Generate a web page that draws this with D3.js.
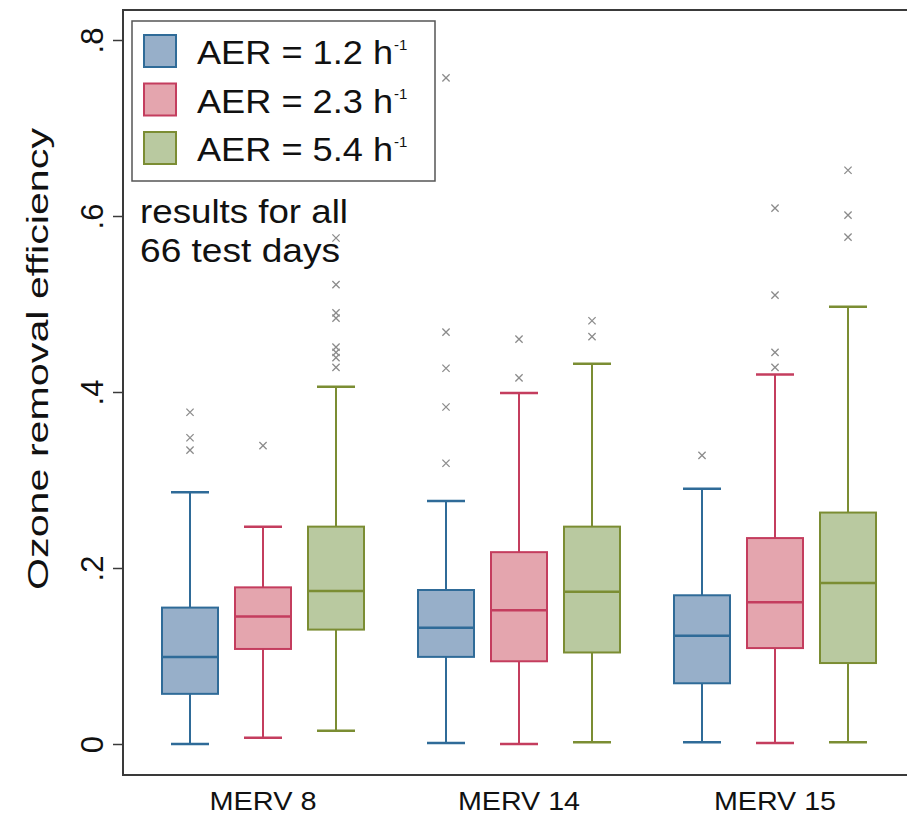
<!DOCTYPE html>
<html><head><meta charset="utf-8">
<script src="https://cdn.jsdelivr.net/npm/d3@7/dist/d3.min.js"></script>
<style>body{margin:0;background:#fff}svg{display:block}text{font-family:"Liberation Sans",Arial,sans-serif;fill:#111}</style>
</head><body><div id="chart"></div>
<script>
// ---------- data ----------
const groups = ["MERV 8", "MERV 14", "MERV 15"];
const seriesNames = ["AER = 1.2 h", "AER = 2.3 h", "AER = 5.4 h"];
const seriesKeys = ["a12", "a23", "a54"];
const yTicks = [0, 0.2, 0.4, 0.6, 0.8];
const yTickLabels = ["0", ".2", ".4", ".6", ".8"];

// box statistics per series, one value per group
const a12Low  = [0.000, 0.001, 0.002];
const a12Q1   = [0.057, 0.099, 0.069];
const a12Med  = [0.099, 0.132, 0.123];
const a12Q3   = [0.155, 0.175, 0.169];
const a12High = [0.286, 0.276, 0.290];
const a12Out  = [[0.377, 0.348, 0.334], [0.757, 0.468, 0.427, 0.383, 0.319], [0.328]];

const a23Low  = [0.007, 0.000, 0.001];
const a23Q1   = [0.108, 0.094, 0.109];
const a23Med  = [0.145, 0.152, 0.161];
const a23Q3   = [0.178, 0.218, 0.234];
const a23High = [0.247, 0.399, 0.420];
const a23Out  = [[0.339], [0.460, 0.416], [0.609, 0.510, 0.445, 0.428]];

const a54Low  = [0.015, 0.002, 0.002];
const a54Q1   = [0.130, 0.104, 0.092];
const a54Med  = [0.174, 0.173, 0.183];
const a54Q3   = [0.247, 0.247, 0.263];
const a54High = [0.406, 0.432, 0.497];
const a54Out  = [[0.575, 0.522, 0.490, 0.484, 0.451, 0.445, 0.439, 0.428], [0.481, 0.463], [0.652, 0.601, 0.576]];

const fills   = ["#97afc9", "#e4a5ae", "#b9c9a0"];
const strokes = ["#2f6b98", "#c43d5e", "#7b8d33"];

// ---------- build table ----------
const stats = [
  {low:a12Low,q1:a12Q1,med:a12Med,q3:a12Q3,high:a12High,out:a12Out},
  {low:a23Low,q1:a23Q1,med:a23Med,q3:a23Q3,high:a23High,out:a23Out},
  {low:a54Low,q1:a54Q1,med:a54Med,q3:a54Q3,high:a54High,out:a54Out}
];
const boxes = [];
groups.forEach((g, gi) => seriesKeys.forEach((k, si) => {
  const s = stats[si];
  boxes.push({group:g, key:k, si, low:s.low[gi], q1:s.q1[gi], med:s.med[gi], q3:s.q3[gi], high:s.high[gi], out:s.out[gi]});
}));

// ---------- chart ----------
const W = 907, H = 816;
const svg = d3.select("#chart").append("svg").attr("width", W).attr("height", H);

const y = d3.scaleLinear().domain([0, 0.8]).range([744, 40]);
const x0 = d3.scaleBand().domain(groups).range([135, 903]);
const x1 = d3.scalePoint().domain(seriesKeys).range([55, 201]);
const cx = d => x0(d.group) + x1(d.key);
const boxW = 56, capW = 38;

// plot frame
svg.append("rect").attr("x", 123).attr("y", 10).attr("width", 820).attr("height", 765)
  .attr("fill", "none").attr("stroke", "#3a3a3a").attr("stroke-width", 2);

// y axis ticks
const yAxis = d3.axisLeft(y).tickValues(yTicks).tickSize(10).tickFormat((d, i) => yTickLabels[i]);
const ga = svg.append("g").attr("transform", "translate(123,0)").call(yAxis);
ga.select(".domain").remove();
ga.selectAll(".tick line").attr("stroke", "#3a3a3a").attr("stroke-width", 1.5);
ga.selectAll(".tick text").attr("x", null).attr("dy", null)
  .attr("transform", "translate(-20,0) rotate(-90)")
  .attr("text-anchor", "middle").attr("font-size", 31).attr("fill", "#111");

// y title
svg.append("text").attr("transform", "translate(48,359) rotate(-90)")
  .attr("text-anchor", "middle").attr("font-size", 30)
  .attr("textLength", 462).attr("lengthAdjust", "spacingAndGlyphs")
  .text("Ozone removal efficiency");

// x labels
const xl = svg.append("g");
groups.forEach(g => {
  xl.append("text").attr("x", x0(g) + x0.bandwidth() / 2).attr("y", 810)
    .attr("text-anchor", "middle").attr("font-size", 26)
    .attr("textLength", g === "MERV 8" ? 107 : 122).attr("lengthAdjust", "spacingAndGlyphs")
    .text(g);
});

// boxes
const bg = svg.append("g").selectAll("g").data(boxes).join("g");
// whiskers
bg.append("line").attr("x1", cx).attr("x2", cx).attr("y1", d => y(d.q3)).attr("y2", d => y(d.high))
  .attr("stroke", d => strokes[d.si]).attr("stroke-width", 2);
bg.append("line").attr("x1", cx).attr("x2", cx).attr("y1", d => y(d.q1)).attr("y2", d => y(d.low))
  .attr("stroke", d => strokes[d.si]).attr("stroke-width", 2);
// caps
bg.append("line").attr("x1", d => cx(d) - capW / 2).attr("x2", d => cx(d) + capW / 2)
  .attr("y1", d => y(d.high)).attr("y2", d => y(d.high))
  .attr("stroke", d => strokes[d.si]).attr("stroke-width", 2.5);
bg.append("line").attr("x1", d => cx(d) - capW / 2).attr("x2", d => cx(d) + capW / 2)
  .attr("y1", d => y(d.low)).attr("y2", d => y(d.low))
  .attr("stroke", d => strokes[d.si]).attr("stroke-width", 2.5);
// box
bg.append("rect").attr("x", d => cx(d) - boxW / 2).attr("width", boxW)
  .attr("y", d => y(d.q3)).attr("height", d => y(d.q1) - y(d.q3))
  .attr("fill", d => fills[d.si]).attr("stroke", d => strokes[d.si]).attr("stroke-width", 2);
// median
bg.append("line").attr("x1", d => cx(d) - boxW / 2).attr("x2", d => cx(d) + boxW / 2)
  .attr("y1", d => y(d.med)).attr("y2", d => y(d.med))
  .attr("stroke", d => strokes[d.si]).attr("stroke-width", 2.5);
// outliers
const sym = d3.symbol().type(d3.symbolTimes).size(36);
bg.selectAll("path.out").data(d => d.out.map(v => ({v, x: cx(d)}))).join("path")
  .attr("class", "out").attr("d", sym)
  .attr("transform", o => `translate(${o.x},${y(o.v)})`)
  .attr("fill", "none").attr("stroke", "#8c8c8c").attr("stroke-width", 1.3);

// legend
const lg = svg.append("g");
lg.append("rect").attr("x", 132).attr("y", 21).attr("width", 303).attr("height", 160)
  .attr("fill", "#fff").attr("stroke", "#555").attr("stroke-width", 1.5);
const ly = d3.scalePoint().domain(seriesKeys).range([51, 148]);
seriesKeys.forEach((k, i) => {
  lg.append("rect").attr("x", 144).attr("y", ly(k) - 16).attr("width", 32).attr("height", 32)
    .attr("fill", fills[i]).attr("stroke", strokes[i]).attr("stroke-width", 2);
  const t = lg.append("text").attr("x", 197).attr("y", ly(k) + 13).attr("font-size", 33);
  t.append("tspan").attr("textLength", 196).attr("lengthAdjust", "spacingAndGlyphs").text(seriesNames[i]);
  t.append("tspan").attr("font-size", 15).attr("dy", -14).attr("dx", 1).text("-1");
});

// annotation
svg.append("text").attr("x", 140).attr("y", 223).attr("font-size", 33)
  .attr("textLength", 208).attr("lengthAdjust", "spacingAndGlyphs").text("results for all");
svg.append("text").attr("x", 140).attr("y", 262).attr("font-size", 33)
  .attr("textLength", 200).attr("lengthAdjust", "spacingAndGlyphs").text("66 test days");
</script></body></html>
